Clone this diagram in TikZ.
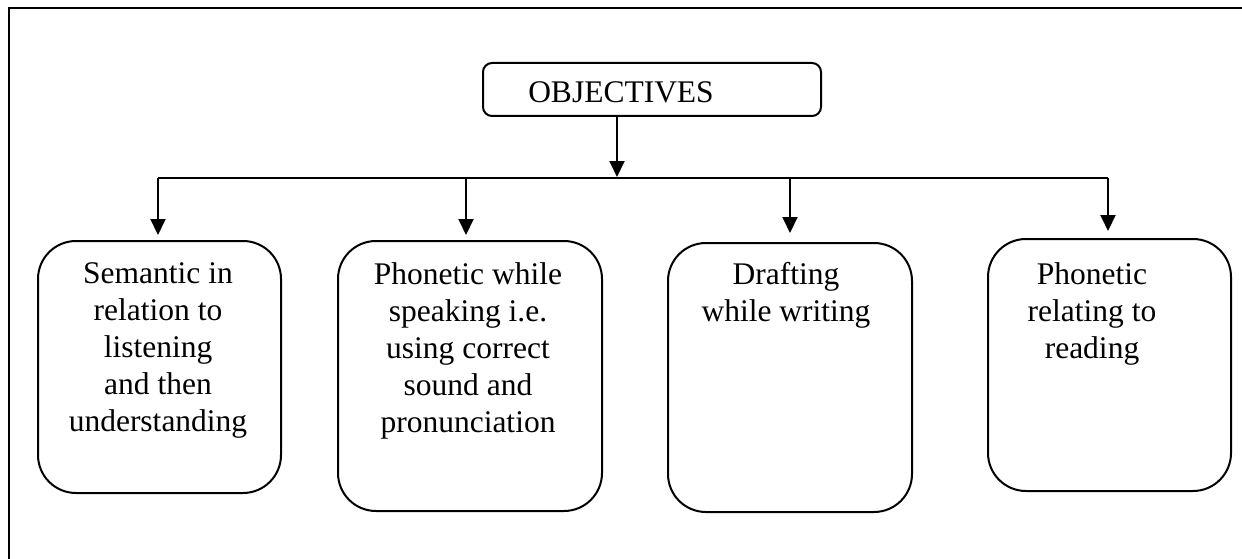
\documentclass[tikz,border=0pt]{standalone}
\usepackage{fontspec}
\setmainfont{Liberation Serif}
\usetikzlibrary{arrows.meta}
\begin{document}
\begin{tikzpicture}[x=1pt,y=-1pt,
  lbl/.style={font=\fontsize{31.5}{37}\selectfont, align=center, inner sep=0pt, anchor=north},
  rbox/.style={draw, line width=2pt, rounded corners=38pt},
  conn/.style={line width=2pt},
  arr/.style={conn, -{Triangle[length=16pt,width=15pt]}}]
\useasboundingbox (0,0) rectangle (1242,559);
\draw[line width=2.6pt] (9,559) -- (9,8) -- (1242,8);
% top box
\draw[line width=2pt, rounded corners=9pt] (483,63) rectangle (821,116);
\node[lbl, anchor=base] (obj) at (621,103) {OBJECTIVES};
\coordinate (objb) at (617,116);
\coordinate (bus) at (617,177);
\draw[arr] (objb) -- (bus);
% child boxes
\draw[rbox] (38,241) rectangle (281,493);
\draw[rbox] (338,241) rectangle (602,511);
\draw[rbox] (668,243) rectangle (912,512);
\draw[rbox] (988,239) rectangle (1231,491);
\coordinate (t1) at (158,235);
\coordinate (t2) at (466,235);
\coordinate (t3) at (790,233);
\coordinate (t4) at (1108,231);
\coordinate (h1) at (158,178);
\coordinate (h2) at (466,178);
\coordinate (h3) at (790,178);
\coordinate (h4) at (1108,178);
\draw[conn] (h1) -- (h4);
\draw[arr] (h1) -- (t1);
\draw[arr] (h2) -- (t2);
\draw[arr] (h3) -- (t3);
\draw[arr] (h4) -- (t4);
\node[lbl] (l1) at (158,262) {Semantic in\\relation to\\listening\\and then\\understanding};
\node[lbl] (l2) at (468,262) {Phonetic while\\speaking i.e.\\using correct\\sound and\\pronunciation};
\node[lbl] (l3) at (786,262) {Drafting\\while writing};
\node[lbl] (l4) at (1092,262) {Phonetic\\relating to\\reading};
\end{tikzpicture}
\end{document}
